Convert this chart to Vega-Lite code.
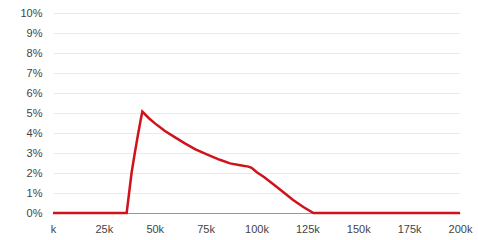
{
  "$schema": "https://vega.github.io/schema/vega-lite/v6.json",
  "width": 407,
  "height": 200,
  "autosize": {"type": "none"},
  "padding": {"left": 53, "top": 13, "right": 18, "bottom": 27},
  "background": "white",
  "config": {
    "view": {"stroke": null},
    "axis": {"labelFont": "Liberation Sans", "labelFontSize": 11, "labelColor": "#444", "titleFont": "Liberation Sans"}
  },
  "data": {
    "values": [
      {"income": 0, "share": 0},
      {"income": 10, "share": 0},
      {"income": 20, "share": 0},
      {"income": 30, "share": 0},
      {"income": 36.2, "share": 0},
      {"income": 37.4, "share": 1.0},
      {"income": 38.6, "share": 2.0},
      {"income": 40.2, "share": 3.0},
      {"income": 41.9, "share": 4.0},
      {"income": 43.0, "share": 4.6},
      {"income": 43.9, "share": 5.07},
      {"income": 47, "share": 4.75},
      {"income": 50.1, "share": 4.48},
      {"income": 55, "share": 4.1},
      {"income": 60, "share": 3.78},
      {"income": 65, "share": 3.47},
      {"income": 70, "share": 3.18},
      {"income": 77, "share": 2.87},
      {"income": 82, "share": 2.66},
      {"income": 87, "share": 2.48},
      {"income": 92, "share": 2.39},
      {"income": 96, "share": 2.32},
      {"income": 97.6, "share": 2.26},
      {"income": 100, "share": 2.05},
      {"income": 104, "share": 1.78},
      {"income": 110, "share": 1.3},
      {"income": 118, "share": 0.65},
      {"income": 123, "share": 0.3},
      {"income": 128, "share": 0},
      {"income": 140, "share": 0},
      {"income": 160, "share": 0},
      {"income": 180, "share": 0},
      {"income": 200, "share": 0}
    ]
  },
  "mark": {"type": "line", "color": "#d0121b", "strokeWidth": 2.5},
  "encoding": {
    "x": {
      "field": "income", "type": "quantitative",
      "scale": {"domain": [0, 200], "nice": false, "zero": false},
      "axis": {
        "title": null, "values": [0, 25, 50, 75, 100, 125, 150, 175, 200],
        "labelExpr": "datum.value == 0 ? 'k' : datum.value + 'k'",
        "grid": false, "ticks": false, "domain": true, "domainColor": "#999", "domainWidth": 1,
        "labelPadding": 10, "labelFlush": false
      }
    },
    "y": {
      "field": "share", "type": "quantitative",
      "scale": {"domain": [0, 10], "nice": false},
      "axis": {
        "title": null, "values": [0, 1, 2, 3, 4, 5, 6, 7, 8, 9, 10],
        "labelExpr": "datum.value + '%'",
        "grid": true, "gridColor": "#ebebeb", "ticks": false, "domain": false,
        "labelPadding": 11
      }
    }
  }
}
